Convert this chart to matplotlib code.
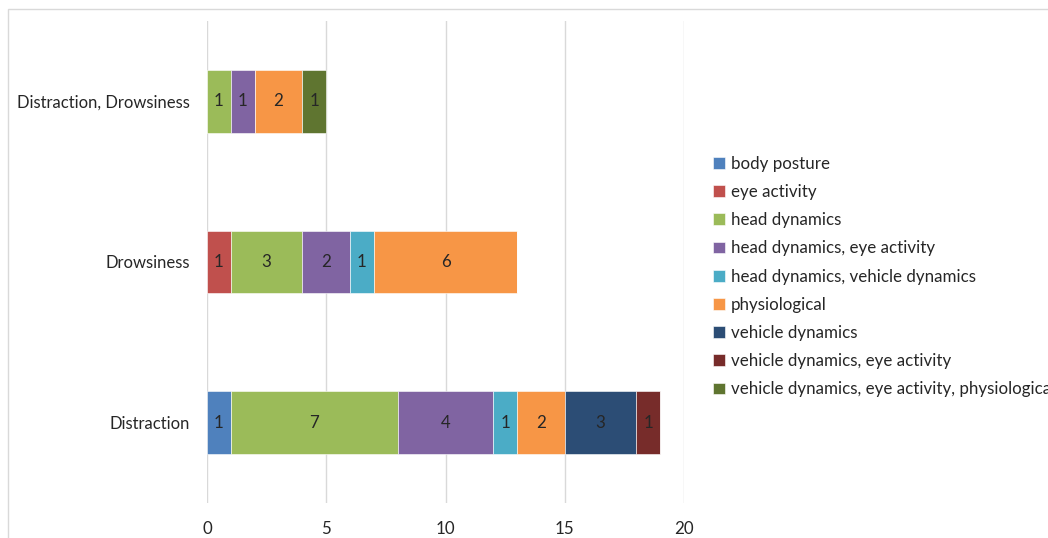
import numpy as np
import matplotlib
from matplotlib import pyplot as plt
from matplotlib.patches import Rectangle

matplotlib.use("Agg")
plt.rcParams['font.family'] = ['Lato', 'DejaVu Sans']

categories = ['Distraction', 'Drowsiness', 'Distraction, Drowsiness']
series = ['body posture', 'eye activity', 'head dynamics',
          'head dynamics, eye activity', 'head dynamics, vehicle dynamics',
          'physiological', 'vehicle dynamics', 'vehicle dynamics, eye activity',
          'vehicle dynamics, eye activity, physiological']
# one list per series, values for Distraction, Drowsiness, Distraction+Drowsiness
body_posture = [1, 0, 0]
eye_activity = [0, 1, 0]
head_dynamics = [7, 3, 1]
head_eye = [4, 2, 1]
head_vehicle = [1, 1, 0]
physiological = [2, 6, 2]
vehicle_dynamics = [3, 0, 0]
vehicle_eye = [1, 0, 0]
vehicle_eye_phys = [0, 0, 1]
values = [body_posture, eye_activity, head_dynamics, head_eye, head_vehicle,
          physiological, vehicle_dynamics, vehicle_eye, vehicle_eye_phys]
colors = ['#4F81BD', '#C0504D', '#9BBB59', '#8064A2', '#4BACC6',
          '#F79646', '#2C4D75', '#772C2A', '#5F7530']
x_ticks = [0, 5, 10, 15, 20]

fig = plt.figure(figsize=(10.48, 5.38), dpi=100)
# light chart-area border
fig.add_artist(Rectangle((8 / 1048, -0.05), 1.1, 1 - 9 / 538 + 0.05,
                         transform=fig.transFigure, fill=False,
                         edgecolor='#d9d9d9', linewidth=1.0))
ax = fig.add_axes([207 / 1048, 1 - 503 / 538, 477 / 1048, 482 / 538])

y = np.arange(len(categories))
left = np.zeros(len(categories))
for name, vals, col in zip(series, values, colors):
    vals = np.array(vals, dtype=float)
    bars = ax.barh(y, vals, left=left, height=0.39, color=col, label=name,
                   edgecolor='white', linewidth=0.4)
    labels = [str(int(v)) if v > 0 else '' for v in vals]
    ax.bar_label(bars, labels=labels, label_type='center', fontsize=12.2,
                 color='#262626')
    left += vals

ax.set_xlim(0, 20)
ax.set_ylim(-0.5, 2.5)
ax.set_xticks(x_ticks)
ax.set_yticks(y)
ax.set_yticklabels(categories)
ax.grid(axis='x', color='#d9d9d9', linewidth=1.0)
ax.set_axisbelow(True)
for s in ax.spines.values():
    s.set_visible(False)
ax.tick_params(axis='both', length=0, labelsize=12.2, labelcolor='#262626')
ax.tick_params(axis='x', pad=13)
ax.tick_params(axis='y', pad=12, labelsize=12.0)

ax.legend(loc='upper left', bbox_to_anchor=(706 / 1048, 1 - 149 / 538),
          bbox_transform=fig.transFigure, frameon=False, fontsize=12.2,
          handlelength=0.7, handleheight=0.7, handletextpad=0.35,
          labelspacing=0.72, borderaxespad=0, labelcolor='#262626')

fig.savefig('out.png', dpi=100)
